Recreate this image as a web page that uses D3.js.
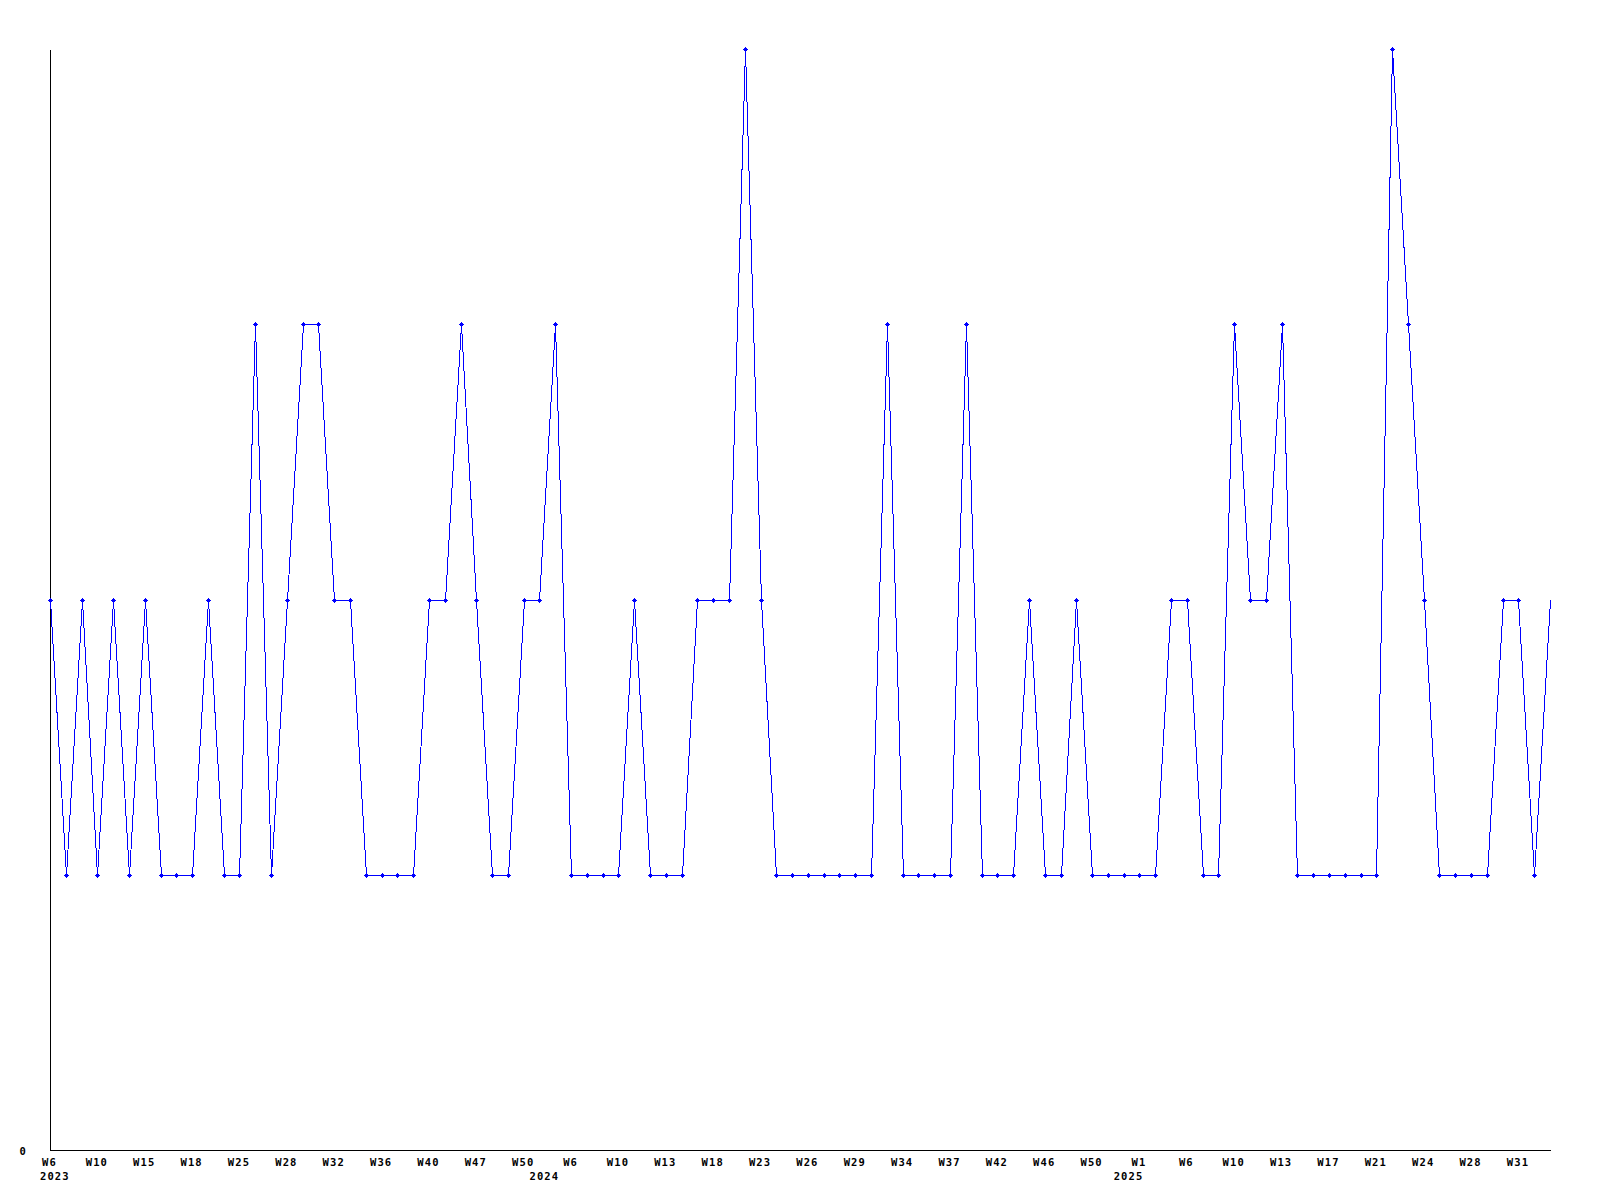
<!DOCTYPE html>
<html>
<head>
<meta charset="utf-8">
<script src="https://cdn.jsdelivr.net/npm/d3@7"></script>
<style>
  html, body { margin: 0; padding: 0; background: #ffffff; }
  svg { display: block; }
  .lbl { font-family: "DejaVu Sans Mono", "Liberation Mono", monospace; font-weight: bold; font-size: 10.5px; letter-spacing: 1.1px; fill: #000; }
</style>
</head>
<body>
<svg id="chart" width="1600" height="1200"></svg>
<script>
// ---- data ----
const values = [
  2,1,2,1,2,1,2,1,1,1,
  2,1,1,3,1,2,3,3,2,2,
  1,1,1,1,2,2,3,2,1,1,
  2,2,3,1,1,1,1,2,1,1,
  1,2,2,2,4,2,1,1,1,1,
  1,1,1,3,1,1,1,1,3,1,
  1,1,2,1,1,2,1,1,1,1,
  1,2,2,1,1,3,2,2,3,1,
  1,1,1,1,1,4,3,2,1,1,
  1,1,2,2,1,2
];
const weekTickLabels = [
  "W6","W10","W15","W18","W25","W28","W32","W36","W40","W47","W50",
  "W6","W10","W13","W18","W23","W26","W29","W34","W37","W42","W46","W50",
  "W1","W6","W10","W13","W17","W21","W24","W28","W31"
];
const weekTickStep = 3;
const yearTickIndex = [0, 31, 68];
const yearTickLabels = ["2023", "2024", "2025"];
const yTickValues = [0];
const yMax = 4;

// ---- layout ----
const svg = d3.select("#chart");
const plotLeft = 50, plotRight = 1550, plotTop = 49, plotBottom = 1150;

const idx = values.map((d, i) => i);
const x = d3.scalePoint().domain(idx).range([plotLeft, plotRight]);
const y = d3.scaleLinear().domain([0, yMax]).range([plotBottom, plotTop]);
const px = v => Math.round(v) + 0.5;

// x axis
const weekTickIdx = weekTickLabels.map((d, i) => i * weekTickStep);
const xAxis = d3.axisBottom(x)
  .tickValues(weekTickIdx)
  .tickSize(0)
  .tickPadding(9)
  .tickFormat((d, i) => weekTickLabels[i]);
const gx = svg.append("g").attr("transform", `translate(0,${plotBottom})`).call(xAxis);
gx.attr("font-size", null).attr("font-family", null);
gx.select(".domain").attr("stroke", "#000").attr("shape-rendering", "crispEdges");
gx.selectAll("text").attr("class", "lbl").attr("dx", -1);

// year labels
svg.append("g").selectAll("text")
  .data(yearTickIndex)
  .join("text")
  .attr("class", "lbl")
  .attr("x", d => x(d) - 10)
  .attr("y", plotBottom + 30)
  .attr("text-anchor", "start")
  .text((d, i) => yearTickLabels[i]);

// y axis
const yAxis = d3.axisLeft(y).tickValues(yTickValues).tickSize(0).tickPadding(23).tickFormat(d3.format("d"));
const gy = svg.append("g").attr("transform", `translate(${plotLeft},0)`).call(yAxis);
gy.attr("font-size", null).attr("font-family", null);
gy.select(".domain").attr("stroke", "#000").attr("shape-rendering", "crispEdges");
gy.selectAll("text").attr("class", "lbl").attr("dy", "0.45em");

// line
const line = d3.line().x((d, i) => px(x(i))).y(d => px(y(d)));
svg.append("path")
  .datum(values)
  .attr("fill", "none")
  .attr("stroke", "#0000ff")
  .attr("stroke-width", 1)
  .attr("shape-rendering", "crispEdges")
  .attr("d", line);

// markers: small bold plus (last, incomplete period has none)
const boldPlus = {
  draw(ctx) {
    ctx.rect(-2.5, -0.5, 5, 1);
    ctx.rect(-0.5, -2.5, 1, 5);
    ctx.rect(-1.5, -1.5, 3, 3);
  }
};
const sym = d3.symbol().type(boldPlus);
svg.append("g").selectAll("path")
  .data(values.slice(0, values.length - 1))
  .join("path")
  .attr("transform", (d, i) => `translate(${px(x(i))},${px(y(d))})`)
  .attr("d", sym)
  .attr("fill", "#0000ff")
  .attr("shape-rendering", "crispEdges");
</script>
</body>
</html>
